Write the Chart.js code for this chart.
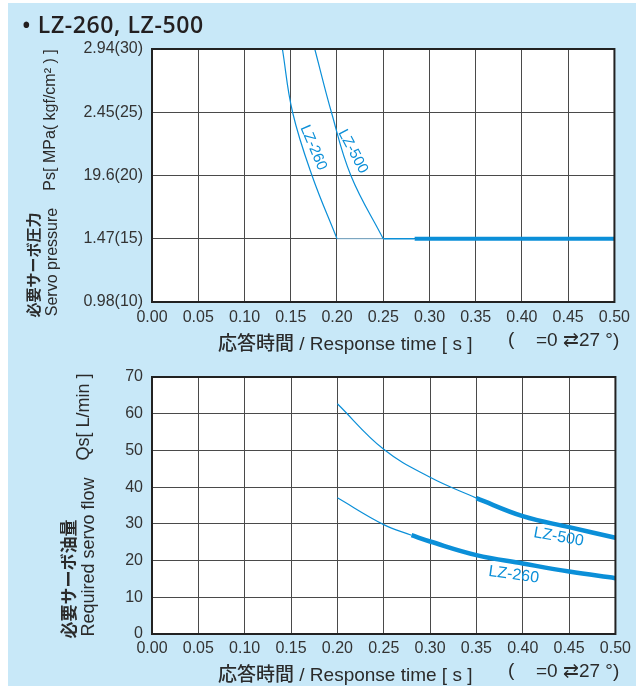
<!DOCTYPE html>
<html>
<head>
<meta charset="utf-8">
<script src="https://cdn.jsdelivr.net/npm/chart.js@4.4.0/dist/chart.umd.min.js"></script>
<style>
  html, body { margin: 0; padding: 0; background: #ffffff; }
  #page { position: relative; width: 636px; height: 686px; overflow: hidden; background: #ffffff; }
  #panel { position: absolute; left: 8px; top: 3px; width: 628px; height: 683px; background: #c8e8f8; }
  canvas { position: absolute; left: 0; }
  .txt { position: absolute; white-space: nowrap; color: #2b2b2b; font-family: "Liberation Sans", Arial, sans-serif; }
  .rot { transform: translate(-50%, -50%) rotate(-90deg); }
  .jp { font-family: "Noto Sans CJK JP", sans-serif; font-weight: 700; }
  #title { left: 22px; top: 8px; font-family: "Open Sans", sans-serif; font-weight: 600; font-size: 23px; letter-spacing: 0.6px; color: #231f20; }
  .xt { font-size: 19px; }
</style>
</head>
<body>
<div id="page">
  <div id="panel"></div>
  <canvas id="topChart" width="636" height="330" style="top:0"></canvas>
  <canvas id="bottomChart" width="636" height="356" style="top:330px"></canvas>

  <div class="txt" id="title">• LZ-260, LZ-500</div>

  <!-- top y titles -->
  <div class="txt rot jp" style="left:32px; top:265px; font-size:15px;">必要サーボ圧力</div>
  <div class="txt rot" style="left:52px; top:262px; font-size:16px;">Servo pressure</div>
  <div class="txt rot" style="left:50px; top:120px; font-size:16px;">Ps[ MPa( kgf/cm² ) ]</div>

  <!-- bottom y titles -->
  <div class="txt rot jp" style="left:67px; top:579px; font-size:17px;">必要サーボ油量</div>
  <div class="txt rot" style="left:88px; top:557px; font-size:18px;">Required servo flow</div>
  <div class="txt rot" style="left:83px; top:417px; font-size:18px;">Qs[ L/min ]</div>

  <!-- x titles -->
  <div class="txt xt" style="left:218px; top:328px;"><span class="jp" style="font-weight:500">応答時間</span> / Response time [ s ]</div>
  <div class="txt xt" style="left:508px; top:328px;">(</div>
  <div class="txt xt" style="left:536px; top:328px;">=0 ⇄27 °)</div>
  <div class="txt xt" style="left:218px; top:659px;"><span class="jp" style="font-weight:500">応答時間</span> / Response time [ s ]</div>
  <div class="txt xt" style="left:508px; top:659px;">(</div>
  <div class="txt xt" style="left:536px; top:659px;">=0 ⇄27 °)</div>
</div>

<script>
// x axis (response time, s)
const xTicks = [0, 0.05, 0.10, 0.15, 0.20, 0.25, 0.30, 0.35, 0.40, 0.45, 0.50];

// top chart: servo pressure (kgf/cm2)
const psTicks = [10, 15, 20, 25, 30];
const psTickLabels = ['0.98(10)', '1.47(15)', '19.6(20)', '2.45(25)', '2.94(30)'];

const psTime260 = [0.141, 0.152, 0.173, 0.200];
const psValue260 = [30, 25, 20, 15];
const psTime500 = [0.176, 0.194, 0.215, 0.250];
const psValue500 = [30, 25, 20, 15];
const psTimeFlatA = [0.200, 0.250];
const psValueFlatA = [15, 15];
const psTimeFlatB = [0.250, 0.284];
const psValueFlatB = [15, 15];
const psTimeFlatThick = [0.284, 0.50];
const psValueFlatThick = [15, 15];

// bottom chart: required servo flow (L/min)
const qsTicks = [0, 10, 20, 30, 40, 50, 60, 70];
const qsTime500Thin = [0.20, 0.25, 0.30, 0.35];
const qsValue500Thin = [62.7, 50.3, 42.7, 37.0];
const qsTime500Thick = [0.35, 0.40, 0.45, 0.50];
const qsValue500Thick = [37.0, 32.1, 29.1, 26.2];
const qsTime260Thin = [0.20, 0.25, 0.28];
const qsValue260Thin = [37.1, 29.8, 26.9];
const qsTime260Thick = [0.28, 0.30, 0.35, 0.40, 0.45, 0.50];
const qsValue260Thick = [26.9, 25.2, 21.5, 19.2, 17.0, 15.2];

const BLUE = '#0b8fd8';
const GRID = '#4a4a4a';
const TICK_FONT = "'Liberation Sans', Arial, sans-serif";

function points(xs, ys) {
    return xs.map((x, i) => ({ x: x, y: ys[i] }));
}

function line(xs, ys, width, color) {
    return {
        data: points(xs, ys),
        borderColor: color || BLUE,
        borderWidth: width,
        pointRadius: 0,
        fill: false,
        tension: 0.4,
        borderCapStyle: 'butt'
    };
}

// white plot area, frame and curve labels
const framePlugin = {
    id: 'frame',
    beforeDraw(chart) {
        const a = chart.chartArea;
        const ctx = chart.ctx;
        ctx.save();
        ctx.fillStyle = '#ffffff';
        ctx.fillRect(a.left, a.top, a.right - a.left, a.bottom - a.top);
        ctx.restore();
    },
    afterDraw(chart) {
        const a = chart.chartArea;
        const ctx = chart.ctx;
        ctx.save();
        ctx.strokeStyle = '#222222';
        ctx.lineWidth = 2;
        ctx.strokeRect(a.left, a.top, a.right - a.left, a.bottom - a.top);
        const labels = chart.options.plugins.frame.labels || [];
        labels.forEach(l => {
            const px = chart.scales.x.getPixelForValue(l.x);
            const py = chart.scales.y.getPixelForValue(l.y);
            ctx.save();
            ctx.translate(px, py);
            ctx.rotate(l.angle * Math.PI / 180);
            ctx.fillStyle = BLUE;
            ctx.font = l.font;
            ctx.textAlign = 'center';
            ctx.textBaseline = 'middle';
            ctx.fillText(l.text, 0, 0);
            ctx.restore();
        });
        ctx.restore();
    }
};

function makeOptions(yMin, yMax, yTicks, yLabel, pad, xHeight, xPad, labels) {
    return {
        responsive: false,
        animation: false,
        layout: { padding: pad },
        plugins: {
            legend: { display: false },
            tooltip: { enabled: false },
            frame: { labels: labels }
        },
        scales: {
            x: {
                type: 'linear',
                min: 0,
                max: 0.5,
                afterBuildTicks: s => { s.ticks = xTicks.map(v => ({ value: v })); },
                afterFit: s => { s.height = xHeight; },
                ticks: {
                    callback: v => v.toFixed(2),
                    color: '#333333',
                    padding: xPad,
                    font: { family: TICK_FONT, size: 16 },
                    maxRotation: 0
                },
                grid: { color: GRID, lineWidth: 1, drawTicks: false },
                border: { display: false }
            },
            y: {
                type: 'linear',
                min: yMin,
                max: yMax,
                afterBuildTicks: s => { s.ticks = yTicks.map(v => ({ value: v })); },
                afterFit: s => { s.width = 152; },
                ticks: {
                    callback: yLabel,
                    color: '#333333',
                    padding: 9,
                    font: { family: TICK_FONT, size: 16 }
                },
                grid: { color: GRID, lineWidth: 1, drawTicks: false },
                border: { display: false }
            }
        }
    };
}

new Chart(document.getElementById('topChart'), {
    type: 'line',
    data: {
        datasets: [
            line(psTime260, psValue260, 1.2),
            line(psTime500, psValue500, 1.2),
            line(psTimeFlatA, psValueFlatA, 1.2, '#8fc6e8'),
            line(psTimeFlatB, psValueFlatB, 1.5),
            line(psTimeFlatThick, psValueFlatThick, 4)
        ]
    },
    options: makeOptions(10, 30, psTicks,
        v => psTickLabels[psTicks.indexOf(v)],
        { top: 49, right: 19, left: 0, bottom: 0 }, 28, 6,
        [
            { text: 'LZ-260', x: 0.1745, y: 22.2, angle: 67, font: "15px 'Liberation Sans', sans-serif" },
            { text: 'LZ-500', x: 0.2172, y: 21.9, angle: 62, font: "15px 'Liberation Sans', sans-serif" }
        ]),
    plugins: [framePlugin]
});

new Chart(document.getElementById('bottomChart'), {
    type: 'line',
    data: {
        datasets: [
            line(qsTime500Thin, qsValue500Thin, 1.2),
            line(qsTime500Thick, qsValue500Thick, 4.5),
            line(qsTime260Thin, qsValue260Thin, 1.2),
            line(qsTime260Thick, qsValue260Thick, 4.5)
        ]
    },
    options: makeOptions(0, 70, qsTicks,
        v => String(v),
        { top: 47, right: 18, left: 0, bottom: 0 }, 52, 5,
        [
            { text: 'LZ-500', x: 0.4387, y: 26.4, angle: 10, font: "16px 'Liberation Sans', sans-serif" },
            { text: 'LZ-260', x: 0.3903, y: 16.1, angle: 8, font: "16px 'Liberation Sans', sans-serif" }
        ]),
    plugins: [framePlugin]
});
</script>
</body>
</html>
